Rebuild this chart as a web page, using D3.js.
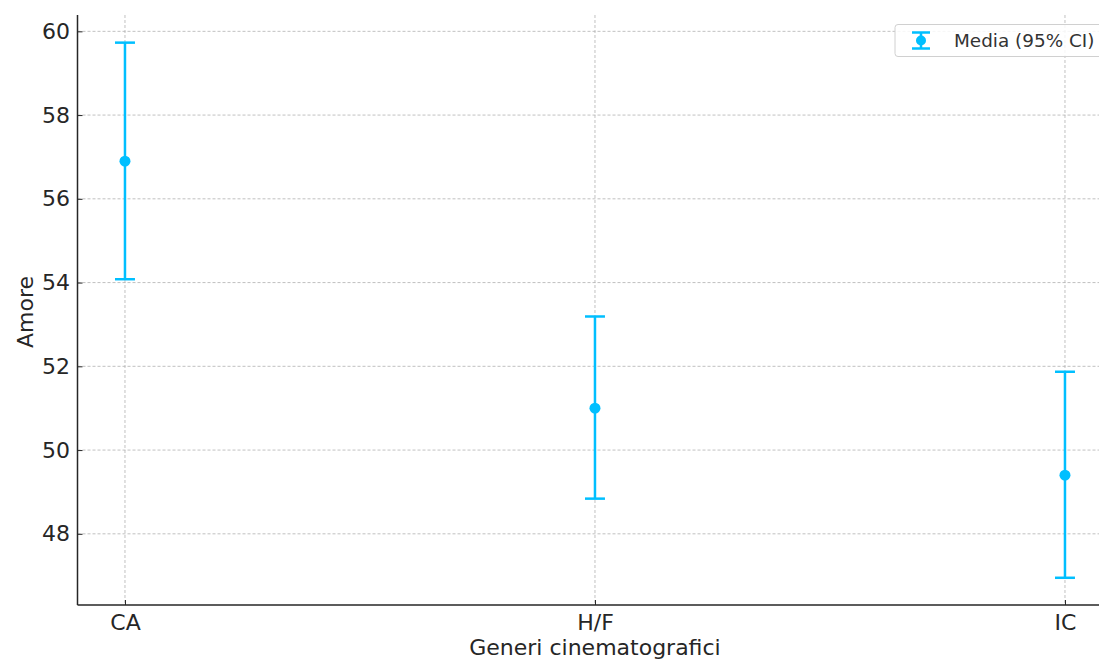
<!DOCTYPE html>
<html><head><meta charset="utf-8">
<script src="https://cdn.jsdelivr.net/npm/d3@7"></script>
<style>body{margin:0;background:#fff;} svg{display:block;font-family:"DejaVu Sans",sans-serif;}</style>
</head><body><svg id="c" width="1099" height="659"></svg>
<script>
const categories = ["CA", "H/F", "IC"];
const means = [56.9, 51.0, 49.4];
const lower = [54.08, 48.84, 46.95];
const upper = [59.73, 53.19, 51.87];
const yTicks = [48, 50, 52, 54, 56, 58, 60];
const seriesLabel = "Media (95% CI)";
const xTitle = "Generi cinematografici";
const yTitle = "Amore";

const svg = d3.select("#c");
const L = 77.5, T = 15, B = 605;
const color = "#00BFFF";
const x = d3.scaleLinear().domain([-0.101, 2.1]).range([L, L + 2.201 * 470]);
const y = d3.scaleLinear().domain([46.30, 60.39]).range([B, T]);
const ink = "#262626";
const fs = "22px";

// grid
const g = svg.append("g");
g.selectAll(".hg").data(yTicks).enter().append("line")
  .attr("x1", L).attr("x2", 1099).attr("y1", d => y(d)).attr("y2", d => y(d))
  .attr("stroke", "#b0b0b0").attr("stroke-width", 0.8).attr("stroke-dasharray", "3,2");
g.selectAll(".vg").data(categories).enter().append("line")
  .attr("x1", (d,i) => x(i)).attr("x2", (d,i) => x(i)).attr("y1", T).attr("y2", B)
  .attr("stroke", "#b0b0b0").attr("stroke-width", 0.8).attr("stroke-dasharray", "3,2");

// axes
const yAxis = d3.axisLeft(y).tickValues(yTicks).tickSizeInner(-5).tickSizeOuter(0).tickPadding(7.5);
const ya = svg.append("g").attr("transform", `translate(${L},0)`).call(yAxis);
const xAxis = d3.axisBottom(x).tickValues([0,1,2]).tickFormat(i => categories[i]).tickSizeInner(-5).tickSizeOuter(0).tickPadding(9);
const xa = svg.append("g").attr("transform", `translate(0,${B})`).call(xAxis);
[ya, xa].forEach(a => {
  a.select(".domain").attr("stroke", ink).attr("stroke-width", 1.5);
  a.selectAll(".tick line").attr("stroke", ink).attr("stroke-width", 1);
  a.selectAll(".tick text").attr("fill", ink).style("font-size", fs).style("font-family", "DejaVu Sans");
});
ya.select(".domain").attr("d", `M0,${B}V${T}`);
xa.select(".domain").attr("d", `M${L},0H1099`);

// titles
svg.append("text").attr("transform", `translate(33,${(T+B)/2 + 2}) rotate(-90)`)
  .attr("text-anchor", "middle").attr("fill", ink).style("font-size", fs).text(yTitle);
svg.append("text").attr("x", x(1)).attr("y", 655)
  .attr("text-anchor", "middle").attr("fill", ink).style("font-size", fs).text(xTitle);

// error bars
const eb = svg.append("g");
categories.forEach((c, i) => {
  const cx = x(i);
  eb.append("line").attr("x1", cx).attr("x2", cx).attr("y1", y(lower[i])).attr("y2", y(upper[i]))
    .attr("stroke", color).attr("stroke-width", 2.5);
  [lower[i], upper[i]].forEach(v => {
    eb.append("line").attr("x1", cx - 10).attr("x2", cx + 10).attr("y1", y(v)).attr("y2", y(v))
      .attr("stroke", color).attr("stroke-width", 2.5);
  });
  eb.append("circle").attr("cx", cx).attr("cy", y(means[i])).attr("r", 5.5).attr("fill", color);
});

// legend
const lg = svg.append("g");
lg.append("rect").attr("x", 895).attr("y", 24.5).attr("width", 215).attr("height", 32).attr("rx", 3)
  .attr("fill", "#fff").attr("fill-opacity", 0.85).attr("stroke", "#d0d0d0").attr("stroke-width", 1);
const lx = 921, ly = 40.5;
lg.append("line").attr("x1", lx).attr("x2", lx).attr("y1", ly - 8).attr("y2", ly + 8).attr("stroke", color).attr("stroke-width", 2.5);
[ly - 8, ly + 8].forEach(v => lg.append("line").attr("x1", lx - 9).attr("x2", lx + 9).attr("y1", v).attr("y2", v).attr("stroke", color).attr("stroke-width", 2.5));
lg.append("circle").attr("cx", lx).attr("cy", ly).attr("r", 5).attr("fill", color);
lg.append("text").attr("x", 954).attr("y", ly + 6).attr("fill", "#333").style("font-size", "18.4px").text(seriesLabel);
</script></body></html>
